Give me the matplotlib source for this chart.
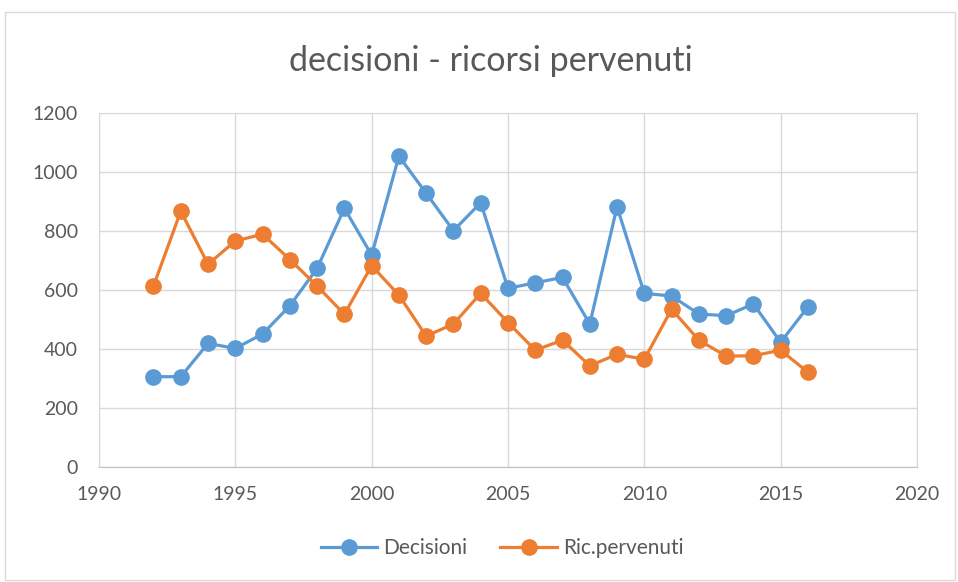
import matplotlib.pyplot as plt
from matplotlib.patches import Rectangle

plt.rcParams['font.family'] = ['Lato', 'DejaVu Sans']

anni = list(range(1992, 2017))
decisioni = [306, 306, 419, 402, 451, 547, 674, 878, 719, 1055, 929, 802, 897,
             606, 625, 643, 485, 883, 589, 580, 519, 513, 553, 423, 543]
ric_pervenuti = [614, 868, 688, 767, 790, 704, 614, 518, 683, 583, 444, 485, 589,
                 490, 396, 430, 343, 382, 365, 535, 430, 376, 377, 396, 321]

blu = '#5B9BD5'
arancio = '#ED7D31'
testo = '#595959'

fig = plt.figure(figsize=(9.58, 5.82), dpi=100)
ax = fig.add_axes([0.1033, 0.198, 0.8539, 0.607])

ax.plot(anni, decisioni, color=blu, lw=2.3, marker='o', ms=11, label='Decisioni')
ax.plot(anni, ric_pervenuti, color=arancio, lw=2.3, marker='o', ms=11, label='Ric.pervenuti')

ax.set_xlim(1990, 2020)
ax.set_ylim(0, 1200)
ax.set_xticks(range(1990, 2021, 5))
ax.set_yticks(range(0, 1201, 200))
ax.grid(color='#D9D9D9', lw=1)
ax.set_axisbelow(True)
for s in ax.spines.values():
    s.set_color('#D9D9D9')
ax.spines['bottom'].set_color('#BFBFBF')
ax.tick_params(length=0, labelsize=14, colors=testo)
ax.tick_params(axis='y', pad=15)
ax.tick_params(axis='x', pad=14)

fig.text(0.512, 0.895, 'decisioni - ricorsi pervenuti', ha='center', va='center',
         fontsize=24.5, color=testo)

fig.legend(loc='center', bbox_to_anchor=(0.524, 0.058), ncol=2, frameon=False,
           fontsize=15, labelcolor=testo, handlelength=2.7, handletextpad=0.3,
           columnspacing=1.6)

fig.patches.append(Rectangle((0.005, 0.003), 0.992, 0.976, transform=fig.transFigure,
                             fill=False, edgecolor='#D9D9D9', lw=1))

fig.savefig('out.png', dpi=100)
